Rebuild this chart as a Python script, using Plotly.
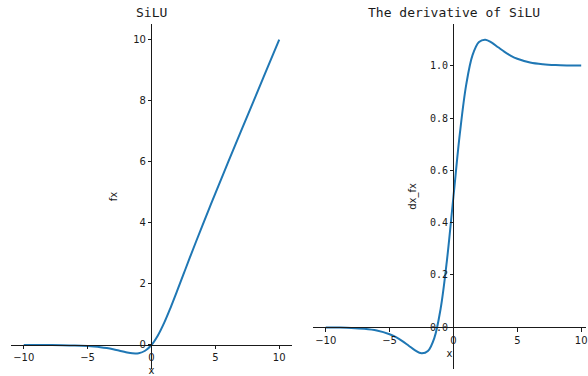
import plotly.graph_objects as go

# Sample points along x
x_vals = [-10, -9, -8, -7, -6, -5, -4.5, -4, -3.5, -3, -2.5, -2, -1.5, -1, -0.5,
          0, 0.5, 1, 1.5, 2, 2.5, 3, 3.5, 4, 4.5, 5, 6, 7, 8, 9, 10]

# SiLU values f(x)
silu_vals = [-0.0005, -0.0011, -0.0027, -0.0064, -0.0148, -0.0335, -0.0494, -0.0719,
             -0.1026, -0.1423, -0.1897, -0.2384, -0.2736, -0.2689, -0.1888,
             0.0, 0.3112, 0.7311, 1.2264, 1.7616, 2.3104, 2.8577, 3.3974, 3.9281,
             4.4506, 4.9665, 5.9852, 6.9936, 7.9973, 8.9989, 9.9995]

# Derivative values f'(x)
dsilu_vals = [-0.0004, -0.0010, -0.0023, -0.0055, -0.0123, -0.0266, -0.0379, -0.0527,
              -0.0703, -0.0881, -0.0994, -0.0908, -0.0413, 0.0723, 0.2600,
              0.5, 0.7400, 0.9277, 1.0413, 1.0908, 1.0994, 1.0881, 1.0703, 1.0527,
              1.0379, 1.0266, 1.0123, 1.0055, 1.0023, 1.0010, 1.0004]

x_ticks = [-10, -5, 0, 5, 10]
left_y_ticks = [0, 2, 4, 6, 8, 10]
right_y_ticks = [0.0, 0.2, 0.4, 0.6, 0.8, 1.0]

W, H = 588, 376
LINE = "#1f77b4"
INK = "#1a1a1a"
MONO = "DejaVu Sans Mono, Liberation Mono, monospace"
SANS = "DejaVu Sans, Arial, sans-serif"

# panel geometry (paper fractions)
y_dom = [1 - 369 / H, 1 - 24 / H]
left_dom = [11 / W, 293 / W]
right_dom = [314 / W, 1.0]


def padded(vals, frac=0.05):
    lo, hi = min(vals), max(vals)
    pad = (hi - lo) * frac
    return [lo - pad, hi + pad]


def frac_pos(value, rng, dom):
    return dom[0] + (value - rng[0]) / (rng[1] - rng[0]) * (dom[1] - dom[0])


lx_range = [-11, 11]
rx_range = [-11, -11 + 22 * ((right_dom[1] - right_dom[0]) / (left_dom[1] - left_dom[0]))]
ly_range = padded(silu_vals)
ry_range = padded(dsilu_vals)

fig = go.Figure()
fig.add_trace(go.Scatter(x=x_vals, y=silu_vals, mode="lines", xaxis="x", yaxis="y",
                         line=dict(color=LINE, width=2, shape="spline"), showlegend=False))
fig.add_trace(go.Scatter(x=x_vals, y=dsilu_vals, mode="lines", xaxis="x2", yaxis="y2",
                         line=dict(color=LINE, width=2, shape="spline"), showlegend=False))

axis_common = dict(showgrid=False, zeroline=False, showline=True, linecolor=INK, linewidth=1,
                   ticks="outside", ticklen=3.5, tickwidth=1, tickcolor=INK,
                   ticklabeloverflow="allow",
                   tickfont=dict(family=SANS, size=10, color=INK))

fig.update_layout(
    width=W, height=H, margin=dict(l=0, r=0, t=0, b=0),
    paper_bgcolor="white", plot_bgcolor="white",
    xaxis=dict(axis_common, domain=left_dom, range=lx_range, tickvals=x_ticks,
               anchor="free", position=frac_pos(0, ly_range, y_dom),
               title=dict(text="x", font=dict(family=SANS, size=10, color=INK), standoff=4)),
    yaxis=dict(axis_common, domain=y_dom, range=ly_range, tickvals=left_y_ticks,
               anchor="free", position=frac_pos(0, lx_range, left_dom),
               title=dict(text="fx", font=dict(family=SANS, size=10, color=INK), standoff=12)),
    xaxis2=dict(axis_common, domain=right_dom, range=rx_range, tickvals=x_ticks,
                anchor="free", position=frac_pos(0, ry_range, y_dom),
                title=dict(text="x", font=dict(family=SANS, size=10, color=INK), standoff=5)),
    yaxis2=dict(axis_common, domain=y_dom, range=ry_range, tickvals=right_y_ticks,
                tickformat=".1f", anchor="free", position=frac_pos(0, rx_range, right_dom),
                tickfont=dict(family=MONO, size=10, color=INK),
                title=dict(text="dx_fx", font=dict(family=SANS, size=10, color=INK), standoff=10)),
    annotations=[
        dict(text="SiLU", x=sum(left_dom) / 2, y=1 - 13 / H, xref="paper", yref="paper",
             showarrow=False, xanchor="center", yanchor="middle",
             font=dict(family=MONO, size=13, color=INK)),
        dict(text="The derivative of SiLU", x=456 / W, y=1 - 13 / H, xref="paper", yref="paper",
             showarrow=False, xanchor="center", yanchor="middle",
             font=dict(family=MONO, size=13, color=INK)),
    ],
)

fig.write_html("out.html")
